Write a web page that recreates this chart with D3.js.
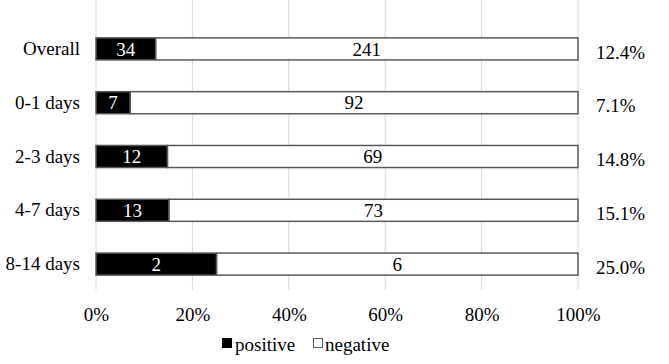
<!DOCTYPE html>
<html>
<head>
<meta charset="utf-8">
<script src="https://cdn.jsdelivr.net/npm/d3@7"></script>
<style>
  body { margin: 0; background: #fff; }
  text { font-family: "Liberation Serif", "Times New Roman", serif; }
</style>
</head>
<body>
<div id="chart-area"></div>
<script>
const categories = ["Overall", "0-1 days", "2-3 days", "4-7 days", "8-14 days"];
const positive = [34, 7, 12, 13, 2];
const negative = [241, 92, 69, 73, 6];
const tickValues = [0, 0.2, 0.4, 0.6, 0.8, 1];

const width = 669, height = 364;
const fontSize = 19;

const svg = d3.select("#chart-area")
  .append("svg")
    .attr("width", width)
    .attr("height", height);

const xScale = d3.scaleLinear()
  .domain([0, 1])
  .range([96, 578]);

const yScale = d3.scaleBand()
  .domain(categories)
  .range([22, 291])
  .paddingInner(0.59)
  .paddingOuter(0.295);

const data = categories.map((c, i) => {
  const total = positive[i] + negative[i];
  return { cat: c, pos: positive[i], neg: negative[i], share: positive[i] / total };
});

// gridlines
svg.append("g")
  .selectAll("line")
  .data(tickValues)
  .join("line")
    .attr("x1", d => xScale(d))
    .attr("x2", d => xScale(d))
    .attr("y1", 0)
    .attr("y2", 290)
    .attr("stroke", "#d9d9d9")
    .attr("stroke-width", 1);

// x axis labels
const xAxis = svg.append("g")
    .attr("transform", "translate(0,290)")
    .call(d3.axisBottom(xScale).tickValues(tickValues).tickFormat(d3.format(".0%")).tickSize(0).tickPadding(18));
xAxis.select(".domain").remove();
xAxis.selectAll("text")
    .style("font-family", "Liberation Serif, serif")
    .style("font-size", fontSize + "px")
    .attr("fill", "#000");

// category labels
const yAxis = svg.append("g")
    .attr("transform", "translate(80,0)")
    .call(d3.axisLeft(yScale).tickSize(0).tickPadding(0));
yAxis.select(".domain").remove();
yAxis.selectAll("text")
    .style("font-family", "Liberation Serif, serif")
    .style("font-size", fontSize + "px")
    .attr("fill", "#000");

const rows = svg.append("g")
  .selectAll("g")
  .data(data)
  .join("g");

// negative (white) segment
rows.append("rect")
    .attr("x", d => xScale(d.share))
    .attr("width", d => xScale(1) - xScale(d.share))
    .attr("y", d => yScale(d.cat))
    .attr("height", yScale.bandwidth())
    .attr("fill", "#fff")
    .attr("stroke", "#595959")
    .attr("stroke-width", 1.5);

// positive (black) segment
rows.append("rect")
    .attr("x", xScale(0))
    .attr("width", d => xScale(d.share) - xScale(0))
    .attr("y", d => yScale(d.cat))
    .attr("height", yScale.bandwidth())
    .attr("fill", "#000")
    .attr("stroke", "#595959")
    .attr("stroke-width", 1.5);

// value labels
rows.append("text")
    .attr("x", d => (xScale(0) + xScale(d.share)) / 2)
    .attr("y", d => yScale(d.cat) + yScale.bandwidth() / 2)
    .attr("dy", "0.35em")
    .attr("text-anchor", "middle")
    .style("font-size", fontSize + "px")
    .attr("fill", "#fff")
    .text(d => d.pos);

rows.append("text")
    .attr("x", d => (xScale(d.share) + xScale(1)) / 2)
    .attr("y", d => yScale(d.cat) + yScale.bandwidth() / 2)
    .attr("dy", "0.35em")
    .attr("text-anchor", "middle")
    .style("font-size", fontSize + "px")
    .attr("fill", "#000")
    .text(d => d.neg);

// share labels on the right
rows.append("text")
    .attr("x", 596)
    .attr("y", d => yScale(d.cat) + yScale.bandwidth() / 2 + 3)
    .attr("dy", "0.35em")
    .style("font-size", fontSize + "px")
    .attr("fill", "#000")
    .text(d => d3.format(".1%")(d.share));

// legend
const legend = svg.append("g").attr("transform", "translate(222,344)");
legend.append("rect")
    .attr("x", 0).attr("y", -6).attr("width", 10).attr("height", 10)
    .attr("fill", "#000");
legend.append("text")
    .attr("x", 13).attr("y", 0).attr("dy", "0.35em")
    .style("font-size", fontSize + "px")
    .text("positive");
legend.append("rect")
    .attr("x", 91.5).attr("y", -5.5).attr("width", 9).attr("height", 9)
    .attr("fill", "#fff").attr("stroke", "#595959").attr("stroke-width", 1);
legend.append("text")
    .attr("x", 103).attr("y", 0).attr("dy", "0.35em")
    .style("font-size", fontSize + "px")
    .text("negative");
</script>
</body>
</html>
